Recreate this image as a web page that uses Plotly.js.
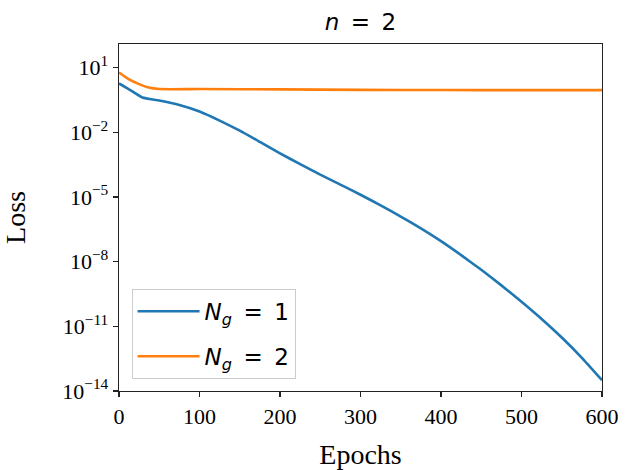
<!DOCTYPE html>
<html>
<head>
<meta charset="utf-8">
<script src="https://cdn.plot.ly/plotly-3.0.1.min.js"></script>
<style>html,body{margin:0;padding:0;background:#fff;}#chart{width:626px;height:470px;}</style>
</head>
<body>
<div id="chart"></div>
<script>
// Data
const epochsNg1 = [0, 12, 29, 50, 75, 100, 125, 150, 175, 200, 225, 250, 275, 300, 325, 350, 375, 400, 425, 450, 475, 500, 525, 550, 575, 600];
const lossNg1 = [1.82, 1.0, 0.41, 0.295, 0.182, 0.0912, 0.0347, 0.01175, 0.00355, 1.05e-3, 3.3e-4, 1.07e-4, 3.72e-5, 1.26e-5, 4.07e-6, 1.23e-6, 3.47e-7, 8.9e-8, 2.0e-8, 4.17e-9, 7.9e-10, 1.38e-10, 2.19e-11, 3.02e-12, 3.47e-13, 3.16e-14];
const epochsNg2 = [0, 12, 25, 37, 50, 100, 200, 300, 400, 500, 600];
const lossNg2 = [5.9, 2.9, 1.7, 1.17, 1.0, 1.0, 0.97, 0.92, 0.9, 0.89, 0.89];
const seriesNames = ["<i>N</i><sub><i>g</i></sub>\u2002=\u20021", "<i>N</i><sub><i>g</i></sub>\u2002=\u20022"];
const xTicks = [0, 100, 200, 300, 400, 500, 600];
const yTickVals = [1e1, 1e-2, 1e-5, 1e-8, 1e-11, 1e-14];
const yExponents = ["1", "\u22122", "\u22125", "\u22128", "\u221211", "\u221214"];
const yTickText = yExponents.map(e => "10<sup>" + e + "</sup>");

const serif = "Liberation Serif, Times New Roman, serif";
const sans = "DejaVu Sans, sans-serif";

const traces = [
  {x: epochsNg1, y: lossNg1, name: seriesNames[0], legendgroup: "a", mode: "lines", line: {color: "#1f77b4", width: 2.6, shape: "spline", smoothing: 0.5}},
  {x: epochsNg2, y: lossNg2, name: seriesNames[1], legendgroup: "b", mode: "lines", line: {color: "#ff7f0e", width: 2.6, shape: "spline", smoothing: 0.5}}
];

const layout = {
  width: 626, height: 470,
  margin: {l: 119, r: 24, t: 44, b: 79, pad: 0},
  paper_bgcolor: "#fff", plot_bgcolor: "#fff",
  title: {text: "<i>n</i>\u2002=\u20022", font: {family: sans, size: 23, color: "#000"}, x: 0.5, xref: "paper", y: 0.953, yanchor: "middle"},
  showlegend: true,
  legend: {x: 0.026, y: 0.035, xanchor: "left", yanchor: "bottom", bgcolor: "rgba(255,255,255,0.8)", bordercolor: "#cccccc", borderwidth: 1, font: {family: sans, size: 23, color: "#000"}, itemwidth: 62, tracegroupgap: 12},
  xaxis: {
    range: [0, 600], tickvals: xTicks, ticktext: xTicks.map(String),
    showgrid: false, zeroline: false, showline: true, mirror: true, linecolor: "#222", linewidth: 1.3,
    ticks: "outside", ticklen: 5, tickwidth: 1.3, tickcolor: "#222",
    tickfont: {family: serif, size: 22, color: "#000"},
    title: {text: "Epochs", font: {family: serif, size: 28, color: "#000"}, standoff: 18}
  },
  yaxis: {
    type: "log", range: [-14, 2.09], tickvals: yTickVals, ticktext: yTickText,
    showgrid: false, zeroline: false, showline: true, mirror: true, linecolor: "#222", linewidth: 1.3,
    ticks: "outside", ticklen: 5, tickwidth: 1.3, tickcolor: "#222",
    tickfont: {family: serif, size: 22, color: "#000"},
    title: {text: "Loss", font: {family: serif, size: 28, color: "#000"}, standoff: 28}
  }
};

Plotly.newPlot("chart", traces, layout, {staticPlot: true, displayModeBar: false});
</script>
</body>
</html>
